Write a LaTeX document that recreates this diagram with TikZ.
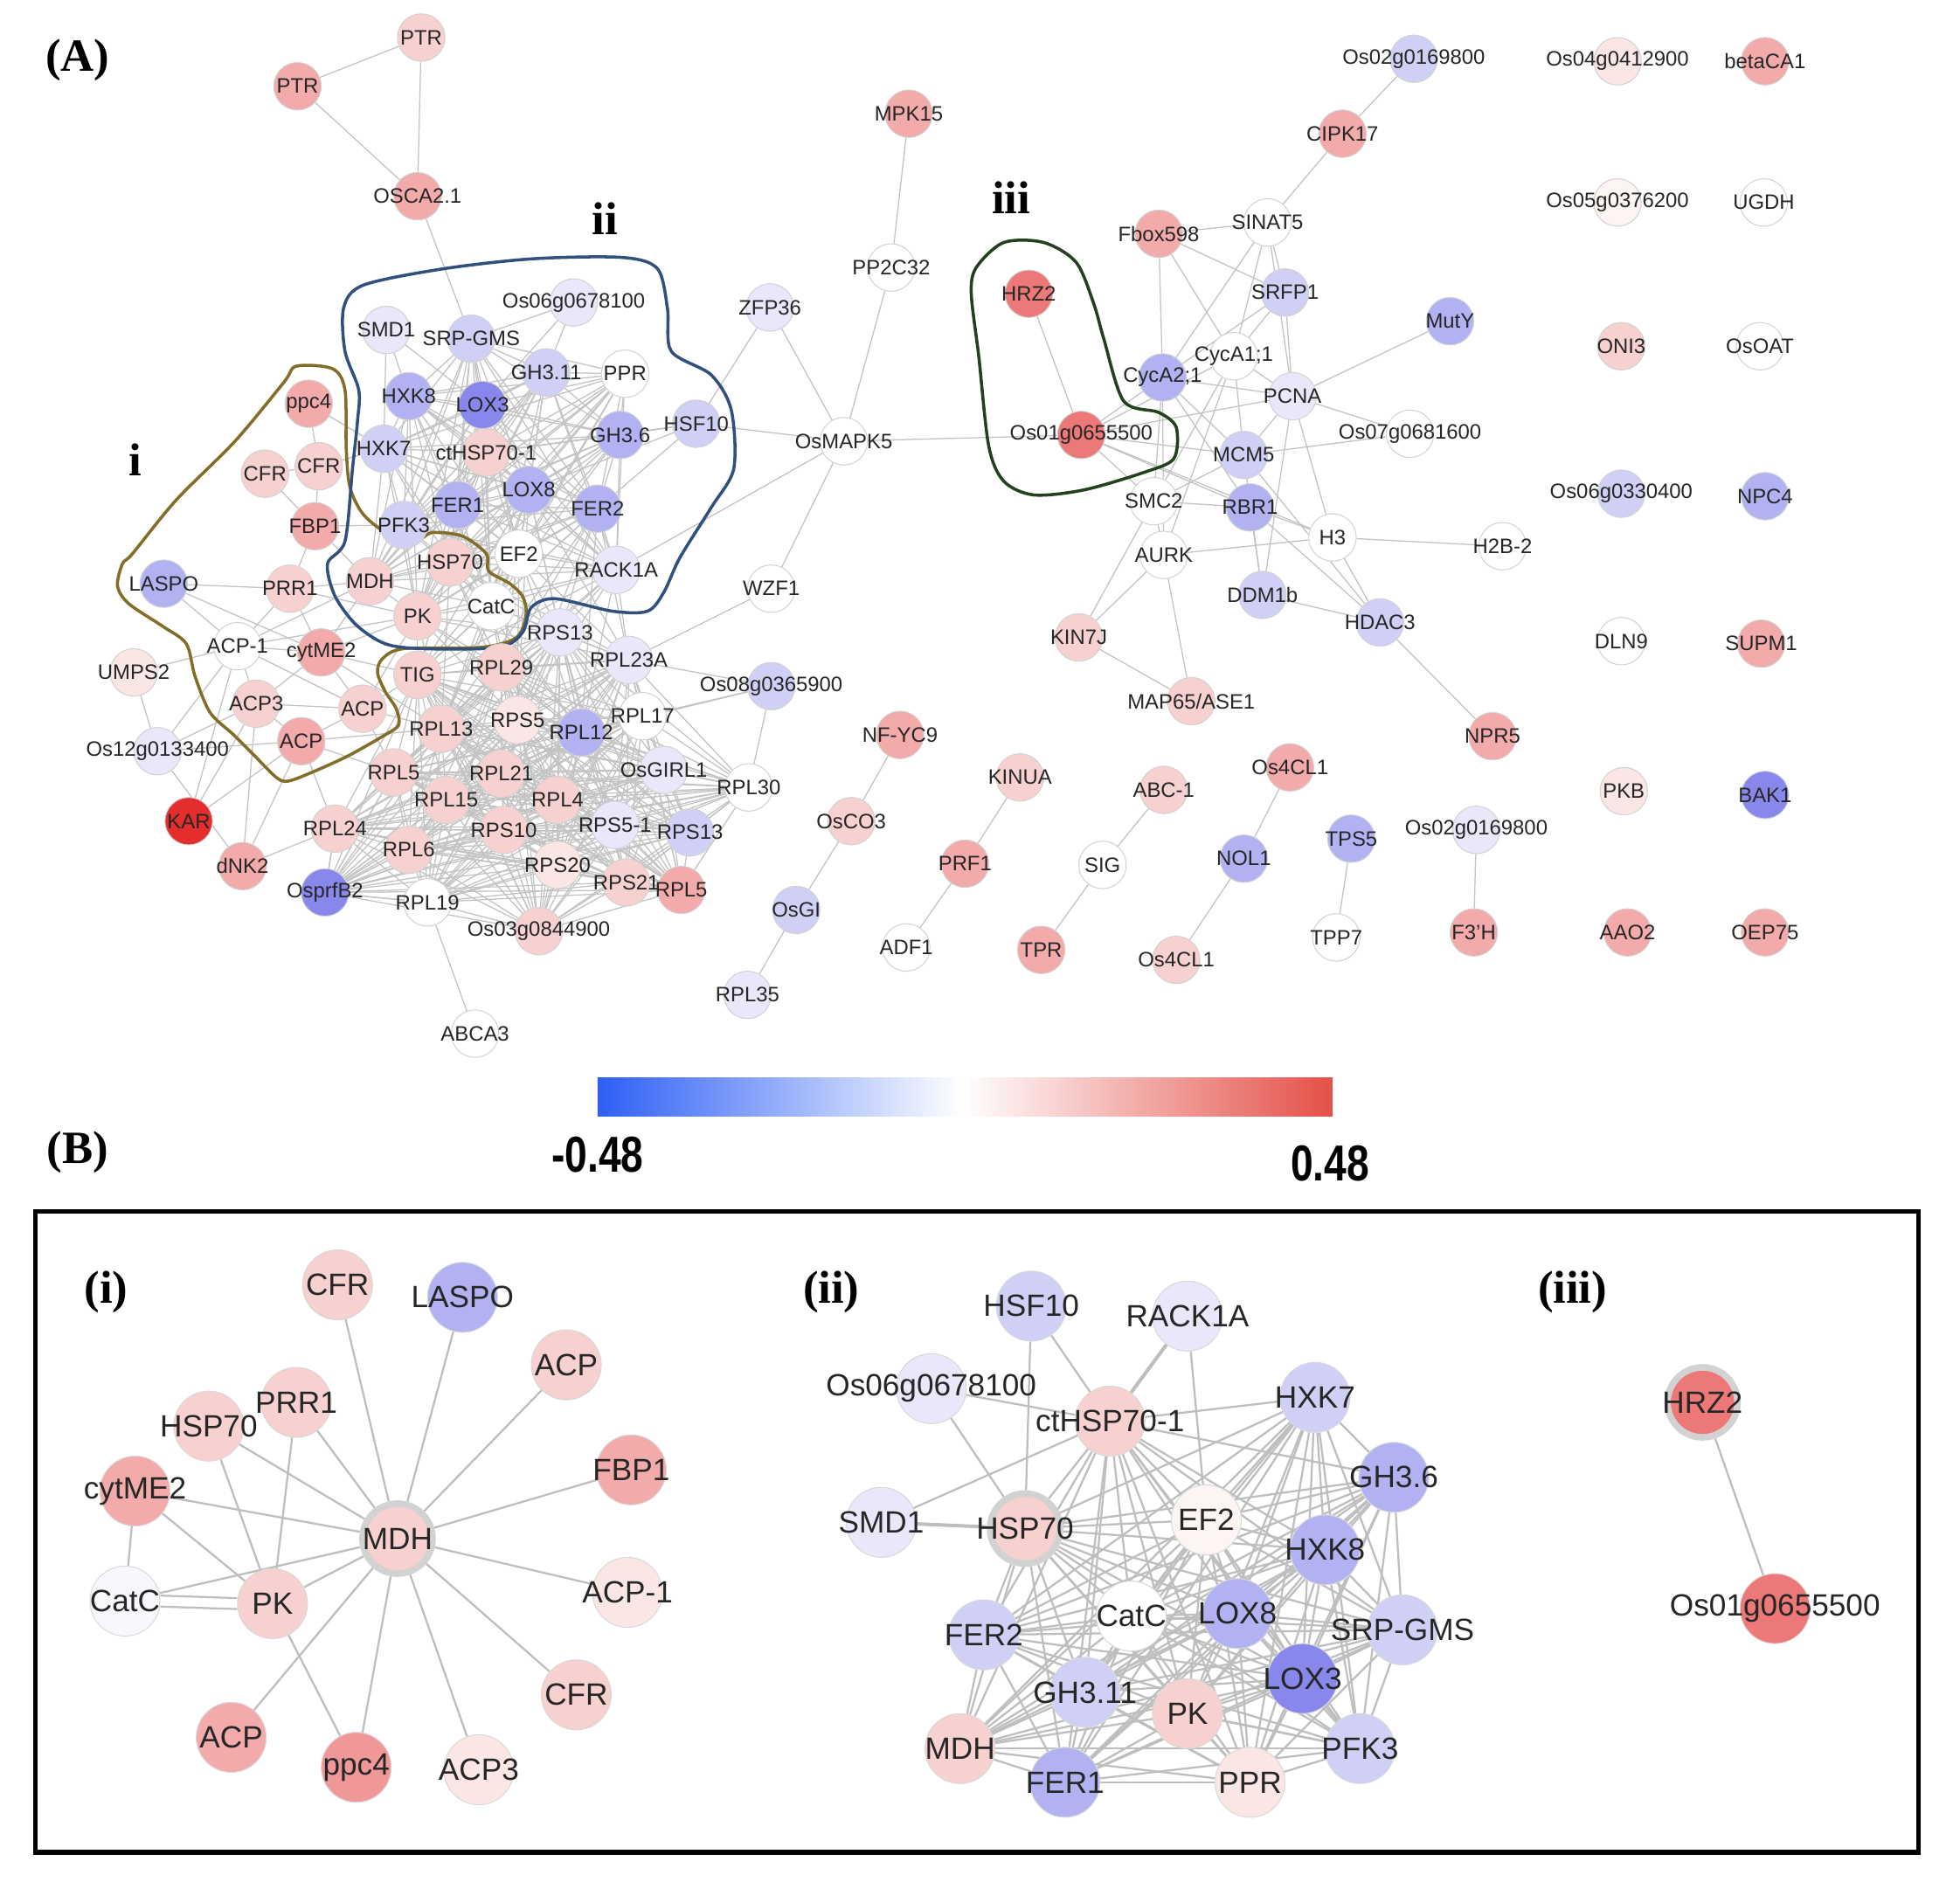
\documentclass[tikz,border=0pt]{standalone}
\usepackage{fontspec}
\usepackage{graphicx}
\setmainfont{Liberation Sans}
\newfontfamily\serifb{Liberation Serif}
\usetikzlibrary{backgrounds}
\definecolor{r0}{RGB}{253,244,244}
\definecolor{r1}{RGB}{251,230,230}
\definecolor{r2}{RGB}{247,208,208}
\definecolor{r3}{RGB}{242,170,170}
\definecolor{r35}{RGB}{240,152,152}
\definecolor{r4}{RGB}{236,120,120}
\definecolor{r5}{RGB}{230,45,45}
\definecolor{b0}{RGB}{247,247,254}
\definecolor{b1}{RGB}{232,232,250}
\definecolor{b2}{RGB}{208,208,246}
\definecolor{b3}{RGB}{178,178,242}
\definecolor{b4}{RGB}{135,135,236}
\definecolor{w0}{RGB}{255,255,255}
\definecolor{edgec}{RGB}{195,195,195}
\definecolor{edgeb}{RGB}{190,190,190}
\definecolor{hullA}{RGB}{130,110,40}
\definecolor{hullB}{RGB}{50,80,125}
\definecolor{hullC}{RGB}{35,65,30}
\definecolor{cbblue}{RGB}{45,95,245}
\definecolor{cbred}{RGB}{228,80,72}
\tikzset{
 lab/.style={font=\fontsize{9.5}{10}\selectfont, text=black!85, inner sep=0pt},
 labB/.style={font=\fontsize{14}{15}\selectfont, text=black!85, inner sep=0pt},
 nd/.style 2 args={circle, minimum size=0.76cm, inner sep=0pt, fill=#1, draw=gray!35, line width=0.4pt, label={[lab]center:#2}},
 ndB/.style 2 args={circle, minimum size=1.12cm, inner sep=0pt, fill=#1, draw=gray!30, line width=0.4pt, label={[labB]center:#2}},
 hub/.style={draw=gray!35, line width=3pt},
 ed/.style={draw=edgec, line width=0.5pt},
 edB/.style={draw=edgeb, line width=0.9pt},
 ttl/.style={font=\serifb\bfseries\fontsize{21}{22}\selectfont, inner sep=0pt},
 hull/.style={line width=1.4pt},
 cbl/.style={font=\bfseries\fontsize{23}{24}\selectfont, inner sep=0pt}
}
\begin{document}
\begin{tikzpicture}[x=0.02cm, y=-0.02cm]
\useasboundingbox (0,0) rectangle (1568,1511);
% ---------- titles ----------
\node[ttl] (tA) at (62,48) {(A)};
\node[ttl] (tB) at (62,922) {(B)};
\node[ttl] (ti) at (108,368) {i};
\node[ttl] (tii) at (484,175) {ii};
\node[ttl] (tiii) at (809,158) {iii};
% ---------- left cluster ----------
\node[nd={r2}{PTR}] (ptrA) at (337,30) {};
\node[nd={r3}{PTR}] (ptrB) at (238,69) {};
\node[nd={r3}{OSCA2.1}] (osca) at (334,157) {};
\node[nd={b1}{SMD1}] (smd1) at (309,264) {};
\node[nd={b2}{SRP-GMS}] (srp) at (377,271) {};
\node[nd={b1}{Os06g0678100}] (os06) at (459,242) {};
\node[nd={b2}{GH3.11}] (gh311) at (437,298) {};
\node[nd={w0}{PPR}] (ppr) at (500,299) {};
\node[nd={b3}{HXK8}] (hxk8) at (327,317) {};
\node[nd={b4}{LOX3}] (lox3) at (386,324) {};
\node[nd={b2}{HSF10}] (hsf10) at (557,339) {};
\node[nd={b3}{GH3.6}] (gh36) at (496,348) {};
\node[nd={r3}{ppc4}] (ppc4) at (247,323) {};
\node[nd={r2}{CFR}] (cfrR) at (255,373) {};
\node[nd={r2}{CFR}] (cfrL) at (212,379) {};
\node[nd={b2}{HXK7}] (hxk7) at (307,359) {};
\node[nd={r2}{ctHSP70-1}] (cthsp) at (389,362) {};
\node[nd={r3}{FBP1}] (fbp1) at (252,421) {};
\node[nd={b2}{PFK3}] (pfk3) at (323,420) {};
\node[nd={b3}{FER1}] (fer1) at (366,404) {};
\node[nd={b3}{LOX8}] (lox8) at (423,392) {};
\node[nd={b3}{FER2}] (fer2) at (478,407) {};
\node[nd={w0}{EF2}] (ef2) at (415,443) {};
\node[nd={r2}{HSP70}] (hsp70) at (360,450) {};
\node[nd={b1}{RACK1A}] (rack1a) at (493,456) {};
\node[nd={r2}{MDH}] (mdh) at (296,465) {};
\node[nd={r2}{PRR1}] (prr1) at (232,471) {};
\node[nd={b3}{LASPO}] (laspo) at (131,467) {};
\node[nd={w0}{WZF1}] (wzf1) at (617,471) {};
\node[nd={r2}{PK}] (pk) at (334,493) {};
\node[nd={w0}{CatC}] (catc) at (393,485) {};
\node[nd={b1}{RPS13}] (rps13a) at (448,506) {};
\node[nd={w0}{ACP-1}] (acp1) at (190,517) {};
\node[nd={r3}{cytME2}] (cytme2) at (257,522) {};
\node[nd={r1}{UMPS2}] (umps2) at (107,538) {};
\node[nd={r2}{TIG}] (tig) at (334,540) {};
\node[nd={r2}{RPL29}] (rpl29) at (401,534) {};
\node[nd={b1}{RPL23A}] (rpl23a) at (503,528) {};
\node[nd={b2}{Os08g0365900}] (os08) at (617,549) {};
\node[nd={r2}{ACP3}] (acp3) at (205,563) {};
\node[nd={r2}{ACP}] (acpU) at (290,567) {};
\node[nd={r2}{RPL13}] (rpl13) at (353,583) {};
\node[nd={r1}{RPS5}] (rps5) at (414,576) {};
\node[nd={b3}{RPL12}] (rpl12) at (465,586) {};
\node[nd={w0}{RPL17}] (rpl17) at (514,573) {};
\node[nd={b1}{Os12g0133400}] (os12) at (126,601) {};
\node[nd={r3}{ACP}] (acpL) at (241,593) {};
\node[nd={r2}{RPL5}] (rpl5a) at (315,618) {};
\node[nd={r2}{RPL21}] (rpl21) at (401,619) {};
\node[nd={b1}{OsGIRL1}] (osgirl) at (531,616) {};
\node[nd={w0}{RPL30}] (rpl30) at (599,630) {};
\node[nd={r2}{RPL15}] (rpl15) at (357,640) {};
\node[nd={r2}{RPL4}] (rpl4) at (446,640) {};
\node[nd={r5}{KAR}] (kar) at (151,657) {};
\node[nd={r2}{RPL24}] (rpl24) at (268,663) {};
\node[nd={r2}{RPS10}] (rps10) at (403,664) {};
\node[nd={b1}{RPS5-1}] (rps51) at (492,660) {};
\node[nd={b2}{RPS13}] (rps13b) at (552,666) {};
\node[nd={r2}{RPL6}] (rpl6) at (327,680) {};
\node[nd={r3}{dNK2}] (dnk2) at (194,693) {};
\node[nd={r1}{RPS20}] (rps20) at (446,692) {};
\node[nd={r2}{RPS21}] (rps21) at (501,706) {};
\node[nd={r3}{RPL5}] (rpl5b) at (545,712) {};
\node[nd={b4}{OsprfB2}] (ospr) at (260,714) {};
\node[nd={w0}{RPL19}] (rpl19) at (342,722) {};
\node[nd={r2}{Os03g0844900}] (os03) at (431,745) {};
\node[nd={w0}{ABCA3}] (abca3) at (380,827) {};
\node[nd={b1}{RPL35}] (rpl35) at (598,796) {};
% ---------- middle ----------
\node[nd={r3}{MPK15}] (mpk15) at (727,91) {};
\node[nd={w0}{PP2C32}] (pp2c) at (713,214) {};
\node[nd={b1}{ZFP36}] (zfp36) at (616,246) {};
\node[nd={w0}{OsMAPK5}] (osmapk5) at (675,353) {};
\node[nd={r3}{NF-YC9}] (nfyc9) at (720,588) {};
\node[nd={r2}{OsCO3}] (osco3) at (681,657) {};
\node[nd={b2}{OsGI}] (osgi) at (637,728) {};
\node[nd={r2}{KINUA}] (kinua) at (816,622) {};
\node[nd={r3}{PRF1}] (prf1) at (772,691) {};
\node[nd={w0}{ADF1}] (adf1) at (725,758) {};
\node[nd={r2}{ABC-1}] (abc1) at (931,632) {};
\node[nd={w0}{SIG}] (sig) at (882,692) {};
\node[nd={r3}{TPR}] (tpr) at (833,760) {};
\node[nd={r3}{Os4CL1}] (os4a) at (1032,614) {};
\node[nd={b3}{NOL1}] (nol1) at (995,687) {};
\node[nd={r2}{Os4CL1}] (os4b) at (941,768) {};
\node[nd={b3}{TPS5}] (tps5) at (1081,671) {};
\node[nd={w0}{TPP7}] (tpp7) at (1069,750) {};
\node[nd={b1}{Os02g0169800}] (os02b) at (1181,664) {};
\node[nd={r3}{F3'H}] (f3h) at (1179,746) {};
% ---------- right cluster ----------
\node[nd={b2}{Os02g0169800}] (os02a) at (1131,47) {};
\node[nd={r3}{CIPK17}] (cipk) at (1074,107) {};
\node[nd={r3}{Fbox598}] (fbox) at (927,187) {};
\node[nd={w0}{SINAT5}] (sinat) at (1014,178) {};
\node[nd={b2}{SRFP1}] (srfp) at (1028,234) {};
\node[nd={b3}{MutY}] (muty) at (1160,257) {};
\node[nd={r4}{HRZ2}] (hrz2) at (823,235) {};
\node[nd={b3}{CycA2;1}] (cyca2) at (930,302) {};
\node[nd={w0}{CycA1;1}] (cyca1) at (987,285) {};
\node[nd={b1}{PCNA}] (pcna) at (1034,317) {};
\node[nd={r4}{Os01g0655500}] (os01) at (865,348) {};
\node[nd={w0}{Os07g0681600}] (os07) at (1128,347) {};
\node[nd={b2}{MCM5}] (mcm5) at (995,364) {};
\node[nd={w0}{SMC2}] (smc2) at (923,401) {};
\node[nd={b3}{RBR1}] (rbr1) at (1000,406) {};
\node[nd={w0}{H3}] (h3) at (1066,430) {};
\node[nd={w0}{H2B-2}] (h2b) at (1202,437) {};
\node[nd={w0}{AURK}] (aurk) at (931,444) {};
\node[nd={b2}{DDM1b}] (ddm) at (1010,476) {};
\node[nd={b2}{HDAC3}] (hdac) at (1104,498) {};
\node[nd={r2}{KIN7J}] (kin) at (863,510) {};
\node[nd={r2}{MAP65/ASE1}] (map65) at (953,561) {};
\node[nd={r3}{NPR5}] (npr5) at (1194,589) {};
% ---------- isolated ----------
\node[nd={r1}{Os04g0412900}] (os04) at (1294,49) {};
\node[nd={r3}{betaCA1}] (beta) at (1412,49) {};
\node[nd={r0}{Os05g0376200}] (os05) at (1294,162) {};
\node[nd={w0}{UGDH}] (ugdh) at (1411,162) {};
\node[nd={r2}{ONI3}] (oni3) at (1297,277) {};
\node[nd={w0}{OsOAT}] (osoat) at (1408,277) {};
\node[nd={b2}{Os06g0330400}] (os06b) at (1297,395) {};
\node[nd={b3}{NPC4}] (npc4) at (1412,397) {};
\node[nd={w0}{DLN9}] (dln9) at (1297,513) {};
\node[nd={r3}{SUPM1}] (supm1) at (1409,515) {};
\node[nd={r1}{PKB}] (pkb) at (1299,633) {};
\node[nd={b4}{BAK1}] (bak1) at (1412,636) {};
\node[nd={r3}{AAO2}] (aao2) at (1302,746) {};
\node[nd={r3}{OEP75}] (oep75) at (1412,746) {};
% ---------- colour bar ----------
\shade[left color=cbblue, right color=white] (478,862) rectangle (770,893);
\shade[left color=white, right color=cbred] (770,862) rectangle (1066,893);
\node[cbl] (cbmin) at (478,924) {\scalebox{0.8}[1]{-0.48}};
\node[cbl] (cbmax) at (1064,931) {\scalebox{0.8}[1]{0.48}};
% ---------- panel B ----------
\draw[line width=2pt] (28,969) rectangle (1535,1482);
\node[ttl] (tbi) at (85,1034) {(i)};
\node[ttl] (tbii) at (665,1034) {(ii)};
\node[ttl] (tbiii) at (1258,1034) {(iii)};
% (i)
\node[ndB={r2}{CFR}] (icfrT) at (270,1028) {};
\node[ndB={b3}{LASPO}] (ilaspo) at (370,1038) {};
\node[ndB={r2}{ACP}] (iacpR) at (453,1092) {};
\node[ndB={r2}{PRR1}] (iprr1) at (237,1122) {};
\node[ndB={r2}{HSP70}] (ihsp70) at (167,1141) {};
\node[ndB={r3}{FBP1}] (ifbp1) at (505,1176) {};
\node[ndB={r3}{cytME2}] (icyt) at (108,1193) {};
\node[ndB={r2}{MDH}, hub] (imdh) at (318,1231) {};
\node[ndB={r1}{ACP-1}] (iacp1) at (502,1274) {};
\node[ndB={b0}{CatC}] (icatc) at (100,1281) {};
\node[ndB={r2}{PK}] (ipk) at (218,1283) {};
\node[ndB={r2}{CFR}] (icfrB) at (461,1356) {};
\node[ndB={r3}{ACP}] (iacpL) at (185,1390) {};
\node[ndB={r35}{ppc4}] (ippc4) at (285,1414) {};
\node[ndB={r1}{ACP3}] (iacp3) at (383,1416) {};
% (ii)
\node[ndB={b2}{HSF10}] (iihsf) at (825,1045) {};
\node[ndB={b1}{RACK1A}] (iirack) at (950,1053) {};
\node[ndB={b1}{Os06g0678100}] (iios06) at (745,1111) {};
\node[ndB={r2}{ctHSP70-1}] (iicth) at (888,1137) {};
\node[ndB={b2}{HXK7}] (iihxk7) at (1052,1118) {};
\node[ndB={b3}{GH3.6}] (iigh36) at (1115,1182) {};
\node[ndB={b1}{SMD1}] (iismd1) at (705,1218) {};
\node[ndB={r2}{HSP70}, hub] (iihsp) at (820,1223) {};
\node[ndB={r0}{EF2}] (iief2) at (965,1216) {};
\node[ndB={b3}{HXK8}] (iihxk8) at (1060,1240) {};
\node[ndB={w0}{CatC}] (iicatc) at (905,1293) {};
\node[ndB={b3}{LOX8}] (iilox8) at (990,1291) {};
\node[ndB={b2}{FER2}] (iifer2) at (787,1308) {};
\node[ndB={b2}{SRP-GMS}] (iisrp) at (1122,1304) {};
\node[ndB={b4}{LOX3}] (iilox3) at (1042,1343) {};
\node[ndB={b2}{GH3.11}] (iigh311) at (868,1354) {};
\node[ndB={r2}{PK}] (iipk) at (950,1371) {};
\node[ndB={r2}{MDH}] (iimdh) at (768,1399) {};
\node[ndB={b2}{PFK3}] (iipfk3) at (1088,1399) {};
\node[ndB={b3}{FER1}] (iifer1) at (852,1426) {};
\node[ndB={r1}{PPR}] (iippr) at (1000,1426) {};
% (iii)
\node[ndB={r4}{HRZ2}, hub] (iiihrz) at (1362,1122) {};
\node[ndB={r4}{Os01g0655500}] (iiios01) at (1420,1287) {};
% ---------- edges & hulls ----------
\begin{scope}[on background layer]
\fill[white] (0,0) rectangle (1568,1511);
\foreach \a/\b in {ptrA/ptrB,ptrA/osca,ptrB/osca,osca/srp,mpk15/pp2c,pp2c/osmapk5,zfp36/osmapk5,zfp36/hsf10,hsf10/osmapk5,rack1a/osmapk5,wzf1/osmapk5,osmapk5/os01,wzf1/rpl23a,os08/rpl30,os08/rpl23a,os08/rpl17,os08/rpl12,nfyc9/osco3,osco3/osgi,osgi/rpl35,kinua/prf1,prf1/adf1,abc1/sig,sig/tpr,os4a/nol1,nol1/os4b,tps5/tpp7,os02b/f3h,os02a/cipk,cipk/sinat,hrz2/os01,rpl19/abca3}
  {\draw[ed] (\a) -- (\b);}
\foreach \a/\b in {fbox/sinat,fbox/cyca2,fbox/srfp,fbox/cyca1,sinat/srfp,sinat/cyca2,sinat/cyca1,sinat/pcna,srfp/pcna,srfp/cyca2,srfp/cyca1,muty/pcna,cyca2/pcna,cyca2/mcm5,cyca2/rbr1,cyca2/smc2,cyca2/os01,cyca2/aurk,cyca1/pcna,cyca1/mcm5,cyca1/smc2,cyca1/aurk,cyca1/os01,pcna/os07,pcna/mcm5,pcna/h3,pcna/ddm,pcna/os01,os01/mcm5,os01/smc2,os01/rbr1,os01/h3,mcm5/os07,mcm5/hdac,mcm5/smc2,smc2/rbr1,smc2/aurk,smc2/kin,rbr1/h3,rbr1/ddm,rbr1/hdac,aurk/h3,aurk/kin,aurk/map65,h3/h2b,h3/hdac,ddm/hdac,hdac/npr5,kin/map65,mcm5/ddm}
  {\draw[ed] (\a) -- (\b);}
\foreach \a/\b in {laspo/prr1,laspo/acp1,laspo/cytme2,prr1/mdh,prr1/pk,prr1/acp1,prr1/cytme2,cfrR/ppc4,cfrR/cfrL,cfrR/fbp1,cfrL/fbp1,cfrR/hxk7,ppc4/hxk7,fbp1/pfk3,fbp1/mdh,fbp1/prr1,acp1/cytme2,acp1/umps2,acp1/acp3,acp1/acpU,acp1/pk,acp1/os12,acp1/mdh,cytme2/pk,cytme2/mdh,cytme2/tig,cytme2/rpl13,cytme2/acpU,cytme2/acp3,acp3/acpL,acp3/acpU,acp3/os12,acp3/kar,acp3/dnk2,acpU/acpL,acpU/rpl13,acpU/tig,acpU/pk,acpU/rpl5a,acpL/rpl5a,acpL/rpl24,acpL/os12,acpL/dnk2,acpL/kar,acpL/rpl13,umps2/os12,kar/acp1,dnk2/rpl24,dnk2/os12,ospr/rpl24,ospr/rpl19,ospr/rpl6,ospr/rpl5a,smd1/hxk8,smd1/hxk7,smd1/lox3,os06/gh311,os06/srp,os06/lox3,hsf10/gh36,hsf10/lox8,hsf10/cthsp,hsf10/fer2}
  {\draw[ed] (\a) -- (\b);}
\def\clA{hxk8,lox3,gh311,ppr,gh36,hxk7,cthsp,pfk3,fer1,lox8,fer2,ef2,hsp70,rack1a,srp,pk,catc,mdh}
\foreach \a [count=\i] in \clA {\foreach \b [count=\j] in \clA {\ifnum\j>\i \draw[ed] (\a) -- (\b);\fi}}
\def\clR{rps13a,rpl29,rpl23a,tig,rpl13,rps5,rpl12,rpl17,rpl5a,rpl21,osgirl,rpl30,rpl15,rpl4,rpl24,rps10,rps51,rps13b,rpl6,rps20,rps21,rpl5b,rpl19,os03,ospr}
\foreach \a [count=\i] in \clR {\foreach \b [count=\j] in \clR {\ifnum\j>\i \draw[ed] (\a) -- (\b);\fi}}
\foreach \a in {ef2,rack1a,catc,pk,hsp70,lox8,fer2} {\foreach \b in {rps13a,rpl29,rpl23a,tig,rpl13,rps5,rpl12} {\draw[ed] (\a) -- (\b);}}
% panel B edges
\foreach \b in {icfrT,ilaspo,iacpR,iprr1,ihsp70,icfrB,iacp3,ippc4,iacpL,ipk,icatc,icyt,ifbp1,iacp1}
  {\draw[edB] (imdh) -- (\b);}
\foreach \a/\b in {ipk/ihsp70,ipk/iprr1,ipk/icyt,ipk/ippc4,icatc/icyt}
  {\draw[edB] (\a) -- (\b);}
\draw[edB] ([yshift=2.5pt]ipk.west) -- ([yshift=2.5pt]icatc.east);
\draw[edB] ([yshift=-2.5pt]ipk.west) -- ([yshift=-2.5pt]icatc.east);
\def\clB{iicth,iihxk7,iigh36,iihsp,iief2,iihxk8,iicatc,iilox8,iifer2,iisrp,iilox3,iigh311,iipk,iimdh,iipfk3,iifer1,iippr}
\foreach \a [count=\i] in \clB {\foreach \b [count=\j] in \clB {\ifnum\j>\i \draw[edB] (\a) -- (\b);\fi}}
\foreach \a/\b in {iihsf/iihsp,iihsf/iicth,iirack/iief2,iios06/iihsp,iismd1/iicth,iios06/iicth}
  {\draw[edB] (\a) -- (\b);}
\draw[edB, line width=1.6pt] (iirack) -- (iicth);
\draw[edB, line width=1.6pt] (iismd1) -- (iihsp);
\draw[edB] (iiihrz) -- (iiios01);
% hulls
\draw[hullA, hull] plot[smooth cycle, tension=0.5] coordinates {(237,293) (266,295) (276,312) (277,359) (280,390) (291,412) (312,428) (334,432) (346,426) (370,429) (389,443) (391,457) (408,467) (418,477) (421,489) (418,503) (410,512) (384,518) (323,519) (306,527) (302,538) (308,553) (317,567) (319,580) (308,588) (278,605) (247,619) (230,625) (221,622) (204,605) (187,588) (168,570) (156,541) (149,515) (130,501) (103,483) (94,469) (98,451) (106,443) (141,400) (188,353) (227,306)};
\draw[hullB, hull] plot[smooth cycle, tension=0.5] coordinates {(275,246) (291,228) (355,215) (427,207) (498,206) (526,215) (534,247) (537,281) (569,300) (585,328) (587,375) (569,406) (544,446) (531,474) (518,489) (490,489) (444,479) (425,486) (418,506) (399,518) (338,519) (308,515) (285,500) (268,477) (262,451) (276,433) (282,375) (286,337) (287,312) (276,281)};
\draw[hullC, hull] plot[smooth cycle, tension=0.5] coordinates {(781,214) (803,194) (835,194) (861,210) (875,243) (883,271) (899,321) (927,330) (941,342) (939,367) (915,378) (867,392) (827,396) (803,385) (791,357) (783,285) (777,235)};
\end{scope}
\end{tikzpicture}
\end{document}
